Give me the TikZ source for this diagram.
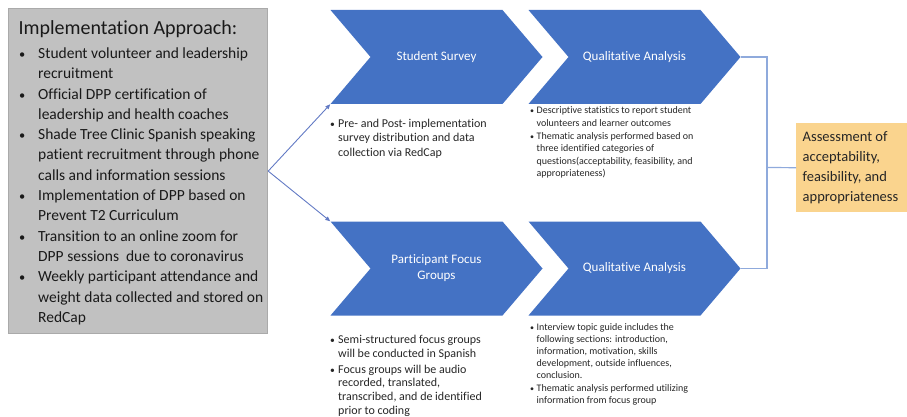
\documentclass[tikz,border=0pt]{standalone}
\usepackage{fontspec}
\setmainfont{Carlito}[RawFeature={-liga;-clig;-dlig;-calt}]
\usepackage{tikz}
\usetikzlibrary{arrows.meta, positioning, calc}
\definecolor{chevblue}{RGB}{68,114,196}
\definecolor{boxgray}{RGB}{193,193,193}
\definecolor{boxedge}{RGB}{170,170,170}
\definecolor{outcome}{RGB}{250,212,142}
\definecolor{linkblue}{RGB}{98,122,196}
\definecolor{brackblue}{RGB}{143,170,220}
\definecolor{notetext}{RGB}{38,38,38}
\newlength{\bulw}
\newcommand{\itm}{\makebox[\bulw][l]{\scalebox{0.8}{\textbullet}}}
\newcommand{\cnt}{\hspace*{\bulw}}
\tikzset{
  approach/.style={rectangle, draw=boxedge, fill=boxgray, line width=1.2pt,
    minimum width=259pt, minimum height=325pt, anchor=north west},
  chev/.style={rectangle, minimum width=212pt, minimum height=94pt,
    inner sep=0pt, align=center, text=white, font=\fontsize{13}{16}\selectfont,
    path picture={\fill[chevblue] (path picture bounding box.north west)
      -- ([xshift=-40pt]path picture bounding box.north east)
      -- (path picture bounding box.east)
      -- ([xshift=-40pt]path picture bounding box.south east)
      -- (path picture bounding box.south west)
      -- ([xshift=40pt]path picture bounding box.west) -- cycle;}},
  notes/.style={anchor=north west, inner sep=0pt, align=left, text=notetext},
  bullet gap/.code={\setlength{\bulw}{#1}},
  outcomebox/.style={rectangle, fill=outcome, text width=98pt, inner xsep=6.5pt,
    minimum height=89pt, align=flush left, anchor=north west, text=notetext,
    font=\fontsize{14.5}{20}\selectfont},
  link/.style={-{Triangle[length=5pt,width=4pt]}, color=linkblue, line width=0.9pt},
  bracket/.style={color=brackblue, line width=1.2pt}
}

\begin{document}
\begin{tikzpicture}[x=1pt, y=-1pt]
  \useasboundingbox (0,0) rectangle (907,417);
  % Implementation box
  \node[approach] (impl) at (8,8) {};
  \node[anchor=base west, font=\fontsize{20}{24}\selectfont, text=black!90] (title) at (15,35) {Implementation Approach:};
  \node[notes, bullet gap=19pt, text=black!90, font=\fontsize{15.5}{20.3}\selectfont] (steps) at (19,47.5) {%
    \itm Student volunteer and leadership\\
    \cnt recruitment\\
    \itm Official DPP certification of\\
    \cnt leadership and health coaches\\
    \itm Shade Tree Clinic Spanish speaking\\
    \cnt patient recruitment through phone\\
    \cnt calls and information sessions\\
    \itm Implementation of DPP based on\\
    \cnt Prevent T2 Curriculum\\
    \itm Transition to an online zoom for\\
    \cnt DPP sessions \ due to coronavirus\\
    \itm Weekly participant attendance and\\
    \cnt weight data collected and stored on\\
    \cnt RedCap};
  % Chevrons
  \node[chev] (survey) at (436.5,57) {Student Survey};
  \node[chev] (qual1) at (634.5,57) {Qualitative Analysis};
  \node[chev] (focus) at (436.5,268.5) {Participant Focus\\Groups};
  \node[chev] (qual2) at (634.5,268.5) {Qualitative Analysis};
  % Notes under chevrons
  \node[notes, bullet gap=8pt, font=\fontsize{12}{14.5}\selectfont] (surveynote) at (330,118.5) {%
    \itm Pre- and Post- implementation\\
    \cnt survey distribution and data\\
    \cnt collection via RedCap};
  \node[notes, bullet gap=6.5pt, font=\fontsize{10}{12.6}\selectfont] (qual1note) at (530,106.8) {%
    \itm Descriptive statistics to report student\\
    \cnt volunteers and learner outcomes\\
    \itm Thematic analysis performed based on\\
    \cnt three identified categories of\\
    \cnt questions(acceptability, feasibility, and\\
    \cnt appropriateness)};
  \node[notes, bullet gap=8pt, font=\fontsize{12}{13.6}\selectfont] (focusnote) at (330,335) {%
    \itm Semi-structured focus groups\\
    \cnt will be conducted in Spanish\\[2.5pt]
    \itm Focus groups will be audio\\
    \cnt recorded, translated,\\
    \cnt transcribed, and de identified\\
    \cnt prior to coding};
  \node[notes, bullet gap=6.5pt, font=\fontsize{10}{12}\selectfont] (qual2note) at (530,323.8) {%
    \itm Interview topic guide includes the\\
    \cnt following sections: introduction,\\
    \cnt information, motivation, skills\\
    \cnt development, outside influences,\\
    \cnt conclusion.\\[1pt]
    \itm Thematic analysis performed utilizing\\
    \cnt information from focus group};
  % Outcome
  \node[outcomebox] (result) at (796,123) {Assessment of\\acceptability,\\feasibility, and\\appropriateness};
  % Links
  \draw[link] (impl.east) -- (survey.south west);
  \draw[link] (impl.east) -- (focus.north west);
  \coordinate (join) at (767,167.5);
  \draw[bracket] (qual1.east) -| (join) |- (qual2.east);
  \draw[bracket] (join) -- (result.west);
\end{tikzpicture}
\end{document}
